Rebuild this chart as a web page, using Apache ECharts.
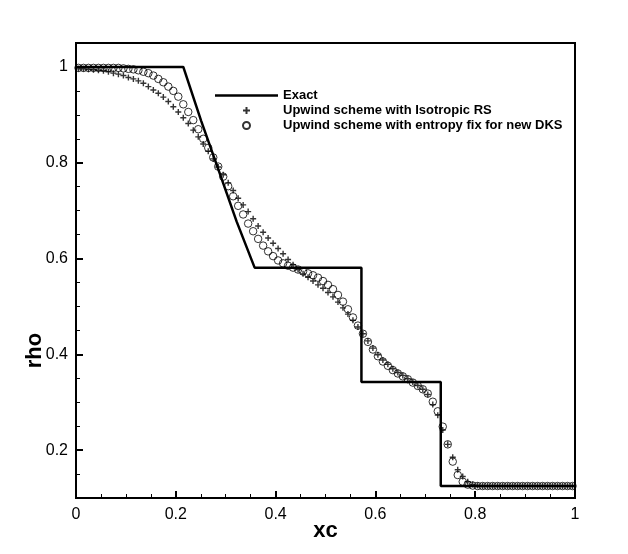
<!DOCTYPE html>
<html>
<head>
<meta charset="utf-8">
<script src="https://cdn.jsdelivr.net/npm/echarts@6/dist/echarts.min.js"></script>
<style>
html,body{margin:0;padding:0;background:#fff;}
#c{width:628px;height:554px;}
</style>
</head>
<body>
<div id="c"></div>
<script>
// Cell centres (xc)
var xc = [0.005,0.015,0.025,0.035,0.045,0.055,0.065,0.075,0.085,0.095,
0.105,0.115,0.125,0.135,0.145,0.155,0.165,0.175,0.185,0.195,
0.205,0.215,0.225,0.235,0.245,0.255,0.265,0.275,0.285,0.295,
0.305,0.315,0.325,0.335,0.345,0.355,0.365,0.375,0.385,0.395,
0.405,0.415,0.425,0.435,0.445,0.455,0.465,0.475,0.485,0.495,
0.505,0.515,0.525,0.535,0.545,0.555,0.565,0.575,0.585,0.595,
0.605,0.615,0.625,0.635,0.645,0.655,0.665,0.675,0.685,0.695,
0.705,0.715,0.725,0.735,0.745,0.755,0.765,0.775,0.785,0.795,
0.805,0.815,0.825,0.835,0.845,0.855,0.865,0.875,0.885,0.895,
0.905,0.915,0.925,0.935,0.945,0.955,0.965,0.975,0.985,0.995];

// Upwind scheme with Isotropic RS (+)
var rhoIso = [0.996,0.996,0.995,0.994,0.993,0.992,0.990,0.987,0.985,0.982,
0.978,0.975,0.971,0.966,0.959,0.952,0.945,0.937,0.928,0.917,
0.906,0.894,0.882,0.868,0.854,0.839,0.824,0.808,0.791,0.775,
0.758,0.742,0.726,0.712,0.698,0.683,0.668,0.655,0.643,0.632,
0.621,0.610,0.598,0.587,0.577,0.568,0.561,0.553,0.545,0.538,
0.529,0.520,0.509,0.497,0.484,0.471,0.457,0.443,0.428,0.413,
0.399,0.388,0.379,0.370,0.362,0.356,0.349,0.342,0.335,0.327,
0.316,0.295,0.273,0.242,0.212,0.185,0.159,0.145,0.134,0.128,
0.126,0.125,0.125,0.125,0.125,0.125,0.125,0.125,0.125,0.125,
0.125,0.125,0.125,0.125,0.125,0.125,0.125,0.125,0.125,0.125];

// Upwind scheme with entropy fix for new DKS (o)
var rhoDKS = [0.998,0.998,0.998,0.998,0.998,0.998,0.998,0.998,0.998,0.997,
0.996,0.995,0.993,0.990,0.987,0.982,0.975,0.968,0.959,0.950,
0.938,0.922,0.906,0.889,0.870,0.850,0.831,0.811,0.792,0.771,
0.751,0.730,0.710,0.692,0.673,0.657,0.641,0.627,0.615,0.605,
0.596,0.590,0.585,0.581,0.577,0.573,0.569,0.565,0.560,0.553,
0.545,0.536,0.524,0.510,0.494,0.477,0.460,0.443,0.426,0.410,
0.396,0.385,0.376,0.367,0.360,0.354,0.348,0.341,0.334,0.327,
0.318,0.301,0.281,0.249,0.212,0.176,0.148,0.134,0.128,0.126,
0.125,0.125,0.125,0.125,0.125,0.125,0.125,0.125,0.125,0.125,
0.125,0.125,0.125,0.125,0.125,0.125,0.125,0.125,0.125,0.125];

// Exact solution
var exactX = [0, 0.215, 0.251, 0.287, 0.322, 0.358, 0.572, 0.572, 0.731, 0.731, 1];
var exactRho = [1, 1, 0.887, 0.781, 0.677, 0.581, 0.581, 0.342, 0.342, 0.125, 0.125];

var xMajor = [0, 0.2, 0.4, 0.6, 0.8, 1];
var xMinor = [0.05,0.1,0.15,0.25,0.3,0.35,0.45,0.5,0.55,0.65,0.7,0.75,0.85,0.9,0.95];
var yMajor = [0.2, 0.4, 0.6, 0.8, 1];
var yMinor = [0.15,0.25,0.3,0.35,0.45,0.5,0.55,0.65,0.7,0.75,0.85,0.9,0.95];

var names = ['Exact', 'Upwind scheme with Isotropic RS', 'Upwind scheme with entropy fix for new DKS'];

function zip(a, b) { var r = []; for (var i = 0; i < a.length; i++) r.push([a[i], b[i]]); return r; }

var FONT = 'Liberation Sans';
var chart = echarts.init(document.getElementById('c'), null, {renderer: 'canvas'});
var baseX = {
  type: 'value', min: 0, max: 1, position: 'bottom',
  axisLine: {show: false, onZero: false},
  splitLine: {show: false}
};
var baseY = {
  type: 'value', min: 0.1, max: 1.05, position: 'left',
  axisLine: {show: false, onZero: false},
  splitLine: {show: false}
};
chart.setOption({
  animation: false,
  backgroundColor: '#fff',
  grid: {left: 76, right: 53, top: 43, bottom: 56, show: true, borderColor: '#000', borderWidth: 2, backgroundColor: 'transparent'},
  legend: {
    orient: 'vertical', left: 210, top: 84, itemWidth: 63, itemHeight: 7, itemGap: 2,
    textStyle: {fontFamily: FONT, fontWeight: 'bold', fontSize: 13, color: '#000'},
    data: [
      {name: names[0], icon: 'path://M0,0L100,0L100,4L0,4Z'},
      {name: names[1]},
      {name: names[2]}
    ]
  },
  xAxis: [
    Object.assign({}, baseX, {
      name: 'xc', nameLocation: 'middle', nameGap: 22, nameMoveOverlap: false,
      nameTextStyle: {fontFamily: FONT, fontWeight: 'bold', fontSize: 22, color: '#000'},
      axisTick: {show: true, inside: true, length: 7, lineStyle: {color: '#000', width: 2}, customValues: xMajor},
      axisLabel: {show: true, margin: 9, fontFamily: FONT, fontSize: 16, color: '#000', customValues: xMajor}
    }),
    Object.assign({}, baseX, {
      axisTick: {show: true, inside: true, length: 4, lineStyle: {color: '#000', width: 1}, customValues: xMinor},
      axisLabel: {show: false}
    })
  ],
  yAxis: [
    Object.assign({}, baseY, {
      name: 'rho', nameLocation: 'middle', nameGap: 30, nameRotate: 90, nameMoveOverlap: false,
      nameTextStyle: {fontFamily: FONT, fontWeight: 'bold', fontSize: 22, color: '#000', padding: [0, 160, 0, 0]},
      axisTick: {show: true, inside: true, length: 7, lineStyle: {color: '#000', width: 2}, customValues: yMajor},
      axisLabel: {show: true, margin: 8, fontFamily: FONT, fontSize: 16, color: '#000', customValues: yMajor}
    }),
    Object.assign({}, baseY, {
      axisTick: {show: true, inside: true, length: 4, lineStyle: {color: '#000', width: 1}, customValues: yMinor},
      axisLabel: {show: false}
    })
  ],
  series: [
    {
      name: names[0], type: 'line', data: zip(exactX, exactRho), symbol: 'none',
      lineStyle: {color: '#000', width: 2.5}, itemStyle: {color: '#000'}, z: 5
    },
    {
      name: names[1], type: 'scatter', data: zip(xc, rhoIso),
      symbol: 'path://M0,5L10,5M5,0L5,10', symbolSize: 6,
      itemStyle: {color: 'transparent', borderColor: '#000', borderWidth: 1.4}, z: 3
    },
    {
      name: names[2], type: 'scatter', data: zip(xc, rhoDKS),
      symbol: 'circle', symbolSize: 7.5,
      itemStyle: {color: 'transparent', borderColor: '#000', borderWidth: 1}, z: 4
    }
  ]
});
</script>
</body>
</html>
